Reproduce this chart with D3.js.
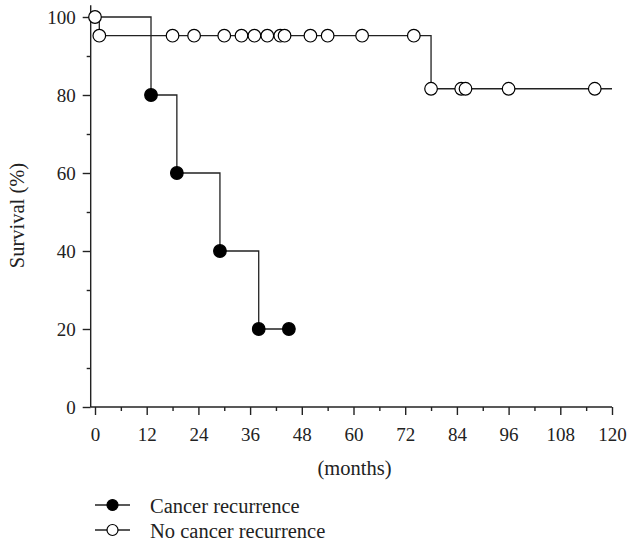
<!DOCTYPE html>
<html>
<head>
<meta charset="utf-8">
<script src="https://cdn.jsdelivr.net/npm/d3@7"></script>
<style>
  body { margin: 0; background: #fff; }
  svg { display: block; }
</style>
</head>
<body>
<svg id="chart" width="630" height="543"></svg>
<script>
// survival curves (step points: time in months, survival in %)
const cancerTimes = [0, 13, 19, 29, 38, 45];
const cancerSurv = [100, 80, 60, 40, 20, 20];
const noCancerTimes = [0, 1, 78, 120];
const noCancerSurv = [100, 95.2, 81.6, 81.6];

// markers drawn on the curves
const cancerMarkTimes = [13, 19, 29, 38, 45];
const cancerMarkSurv = [80, 60, 40, 20, 20];
const noCancerMarkTimes = [0, 1, 18, 23, 30, 34, 37, 40, 43, 44, 50, 54, 62, 74, 78, 85, 86, 96, 116];
const noCancerMarkSurv = [100, 95.2, 95.2, 95.2, 95.2, 95.2, 95.2, 95.2, 95.2, 95.2, 95.2, 95.2, 95.2, 95.2, 81.6, 81.6, 81.6, 81.6, 81.6];

// ticks
const xMajorTicks = [0, 12, 24, 36, 48, 60, 72, 84, 96, 108, 120];
const xMinorTicks = [6, 18, 30, 42, 54, 66, 78, 90, 102, 114];
const yMajorTicks = [0, 20, 40, 60, 80, 100];
const yMinorTicks = [10, 30, 50, 70, 90];

const legendLabels = ["Cancer recurrence", "No cancer recurrence"];

const ink = "#222";
const serif = "'Liberation Serif', 'DejaVu Serif', serif";
const svg = d3.select("#chart")
    .attr("font-family", serif);

const x = d3.scaleLinear().domain([0, 120]).range([95, 612]);
const y = d3.scaleLinear().domain([0, 100]).range([407, 17]);

const axisX = x(-1); // y axis sits a little left of month 0

// x axis
const gx = svg.append("g").attr("transform", "translate(0," + y(0) + ")");
gx.append("g")
    .call(d3.axisBottom(x).tickValues(xMajorTicks).tickSize(8).tickFormat(d3.format("d")))
    .call(g => g.select(".domain").remove())
    .call(g => g.selectAll("text").attr("y", 34).attr("dy", null));
gx.append("g")
    .call(d3.axisBottom(x).tickValues(xMinorTicks).tickSize(4).tickFormat(""))
    .call(g => g.select(".domain").remove());
gx.append("line")
    .attr("x1", axisX).attr("x2", x(120))
    .attr("stroke", ink).attr("stroke-width", 1.4);

// y axis
const gy = svg.append("g").attr("transform", "translate(" + axisX + ",0)");
gy.append("g")
    .call(d3.axisLeft(y).tickValues(yMajorTicks).tickSize(8).tickPadding(7).tickFormat(d3.format("d")))
    .call(g => g.select(".domain").remove());
gy.append("g")
    .call(d3.axisLeft(y).tickValues(yMinorTicks).tickSize(4).tickFormat(""))
    .call(g => g.select(".domain").remove());
gy.append("line")
    .attr("y1", y(0)).attr("y2", y(103))
    .attr("stroke", ink).attr("stroke-width", 1.4);

svg.selectAll(".tick line").attr("stroke", ink).attr("stroke-width", 1.4);
svg.selectAll(".tick text")
    .attr("font-family", serif)
    .attr("font-size", 19)
    .attr("fill", ink);

// axis titles
svg.append("text")
    .attr("transform", "translate(24," + 215.5 + ") rotate(-90)")
    .attr("text-anchor", "middle")
    .attr("font-size", 20.5).attr("fill", ink)
    .text("Survival (%)");

svg.append("text")
    .attr("x", 354.5).attr("y", 475)
    .attr("text-anchor", "middle")
    .attr("font-size", 20.5).attr("fill", ink)
    .text("(months)");

// curves
const step = d3.line()
    .x(d => x(d[0]))
    .y(d => y(d[1]))
    .curve(d3.curveStepAfter);

svg.append("path")
    .datum(cancerTimes.map((t, i) => [t, cancerSurv[i]]))
    .attr("d", step)
    .attr("fill", "none").attr("stroke", ink).attr("stroke-width", 1.3);

svg.append("path")
    .datum(noCancerTimes.map((t, i) => [t, noCancerSurv[i]]))
    .attr("d", step)
    .attr("fill", "none").attr("stroke", ink).attr("stroke-width", 1.3);

const r = 6.3;

svg.append("g").selectAll("circle")
    .data(cancerMarkTimes.map((t, i) => [t, cancerMarkSurv[i]]))
    .enter().append("circle")
    .attr("cx", d => x(d[0]))
    .attr("cy", d => y(d[1]))
    .attr("r", r)
    .attr("fill", "#000").attr("stroke", "#000").attr("stroke-width", 1.2);

svg.append("g").selectAll("circle")
    .data(noCancerMarkTimes.map((t, i) => [t, noCancerMarkSurv[i]]))
    .enter().append("circle")
    .attr("cx", d => x(d[0]))
    .attr("cy", d => y(d[1]))
    .attr("r", r)
    .attr("fill", "#fff").attr("stroke", "#000").attr("stroke-width", 1.2);

// legend
const legend = svg.append("g").selectAll("g")
    .data(legendLabels)
    .enter().append("g")
    .attr("transform", (d, i) => "translate(95," + (505 + i * 25) + ")");

legend.append("line")
    .attr("x1", 0).attr("x2", 35)
    .attr("stroke", ink).attr("stroke-width", 1.3);

legend.append("circle")
    .attr("cx", 17.5).attr("r", 5.5)
    .attr("fill", (d, i) => i === 0 ? "#000" : "#fff")
    .attr("stroke", "#000").attr("stroke-width", 1.2);

legend.append("text")
    .attr("x", 55)
    .attr("y", 7.5)
    .attr("font-size", 20.5).attr("fill", ink)
    .text(d => d);
</script>
</body>
</html>
